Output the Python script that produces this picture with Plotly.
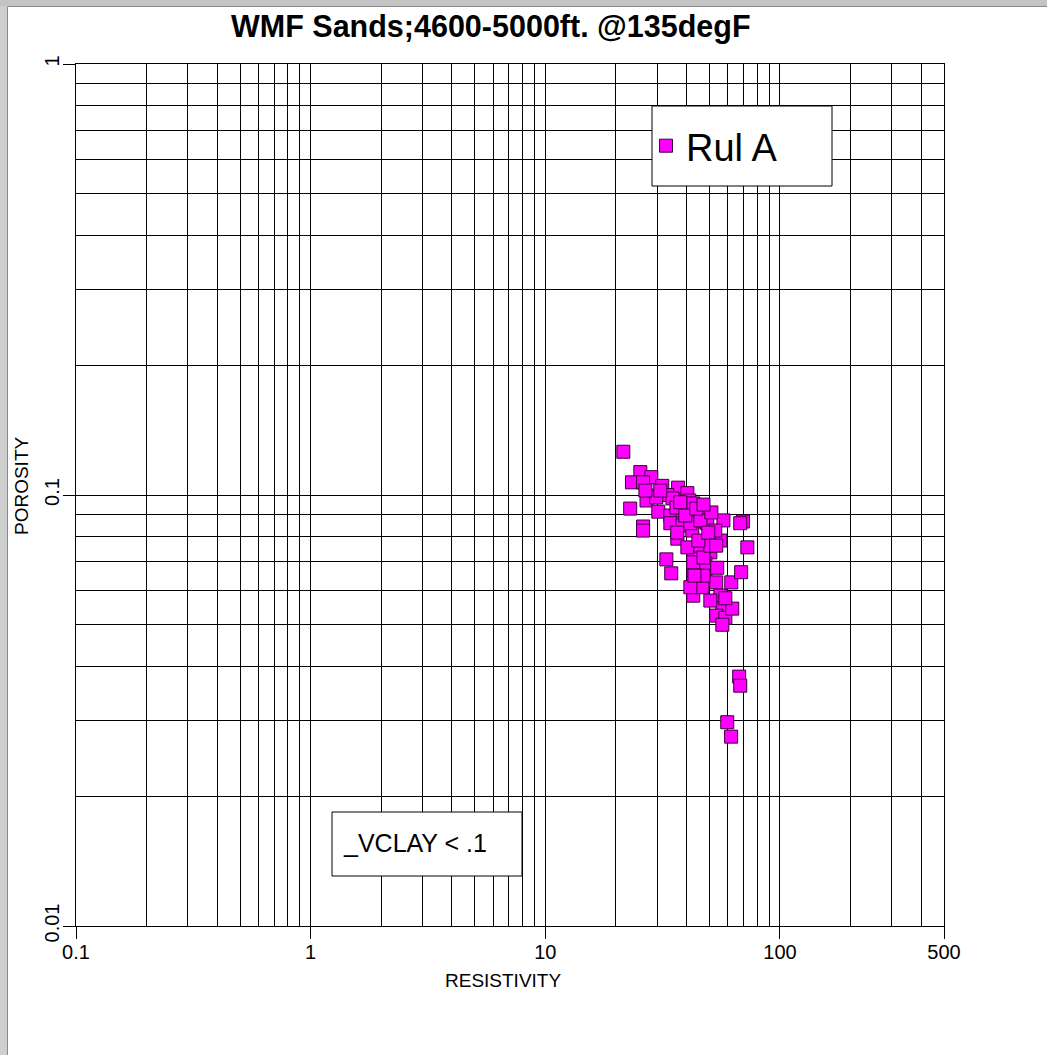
import plotly.graph_objects as go

# ---- data ----
resistivity = [21.5, 25.4, 28.3, 23.4, 26.1, 31.5, 36.8, 40.3, 33.1, 28.6,
               27.0, 29.7, 34.8, 41.1, 23.0, 30.3, 34.1, 38.4, 42.3, 36.2,
               26.1, 34.1, 38.4, 57.4, 69.6, 72.6, 48.6, 51.5, 45.8, 50.5,
               55.7, 42.7, 26.1, 32.8, 34.4, 36.5, 36.5, 42.3, 42.7, 42.7,
               43.2, 42.7, 48.1, 48.1, 54.0, 53.5, 55.7, 56.8, 53.5, 58.5,
               56.8, 62.0, 62.6, 68.3, 67.0, 67.7, 59.6, 61.9, 40.3, 45.8,
               42.7, 47.2, 46.7, 41.5, 58.5, 47.2, 41.5, 49.0, 67.7, 45.8,
               51.0, 53.0, 39.5, 44.0, 30.9, 26.7, 50.5, 44.9, 49.5, 37.6,
               47.2, 53.5, 43.2, 50.5]
porosity = [0.126, 0.113, 0.110, 0.107, 0.107, 0.105, 0.104, 0.101, 0.100, 0.0997,
            0.0971, 0.0987, 0.0982, 0.0971, 0.093, 0.0915, 0.0896, 0.0920, 0.0878, 0.0935,
            0.0845, 0.0860, 0.0850, 0.0873, 0.0868, 0.0756, 0.0863, 0.0792, 0.0906, 0.0736,
            0.0784, 0.0956, 0.0827, 0.0709, 0.0658, 0.0792, 0.0818, 0.0827, 0.0736, 0.0668,
            0.0623, 0.0584, 0.0694, 0.0640, 0.0678, 0.0627, 0.0584, 0.0545, 0.0525, 0.0519,
            0.0500, 0.0627, 0.0545, 0.0662, 0.0379, 0.0361, 0.0297, 0.0275, 0.0756, 0.0763,
            0.0698, 0.0716, 0.0611, 0.0611, 0.0576, 0.0650, 0.0860, 0.0860, 0.0860, 0.0873,
            0.0911, 0.0827, 0.0896, 0.0930, 0.1024, 0.1024, 0.0763, 0.0784, 0.0818, 0.0962,
            0.0950, 0.0763, 0.0650, 0.0569]
series_name = "Rul A"

x_tick_vals = [0.1, 1, 10, 100, 500]
x_tick_text = ["0.1", "1", "10", "100", "500"]
x_minor_vals = [0.2, 0.3, 0.4, 0.5, 0.6, 0.7, 0.8, 0.9,
                2, 3, 4, 5, 6, 7, 8, 9,
                20, 30, 40, 50, 60, 70, 80, 90,
                200, 300, 400]
y_tick_vals = [0.01, 0.1, 1]
y_tick_text = ["0.01", "0.1", "1"]
y_minor_vals = [0.02, 0.03, 0.04, 0.05, 0.06, 0.07, 0.08, 0.09,
                0.2, 0.3, 0.4, 0.5, 0.6, 0.7, 0.8, 0.9]

title_text = "WMF Sands;4600-5000ft. @135degF"
x_title = "RESISTIVITY"
y_title = "POROSITY"
note_text = "_VCLAY < .1"

# ---- layout geometry (pixels) ----
W, H = 1047, 1055
L, R, T, B = 76, 944, 64, 926
PW, PH = R - L, B - T

def px(x):
    return (x - L) / PW

def py(y):
    return 1 - (y - T) / PH

FONT = "Liberation Sans, Arial, sans-serif"

fig = go.Figure()
fig.add_trace(go.Scatter(
    x=resistivity, y=porosity, mode="markers", name=series_name,
    marker=dict(symbol="square", size=13, color="#FF00FF",
                line=dict(color="#3a003a", width=1)),
))

axis_common = dict(
    type="log", showgrid=True, gridcolor="#000000", gridwidth=1,
    showline=True, linecolor="#000000", linewidth=1, mirror=True,
    ticks="outside", ticklen=12, tickcolor="#000000", tickwidth=1,
    zeroline=False, tickfont=dict(family=FONT, size=20, color="#000000"),
    ticklabelstandoff=-4,
)

fig.update_xaxes(
    **axis_common,
    range=[-1, 2.69897],
    tickmode="array", tickvals=x_tick_vals, ticktext=x_tick_text,
    minor=dict(tickmode="array", tickvals=x_minor_vals, showgrid=True,
               gridcolor="#000000", gridwidth=1, ticks=""),
)
fig.update_yaxes(
    **axis_common,
    range=[-2, 0],
    tickmode="array", tickvals=y_tick_vals, ticktext=y_tick_text,
    tickangle=-90,
    minor=dict(tickmode="array", tickvals=y_minor_vals, showgrid=True,
               gridcolor="#000000", gridwidth=1, ticks=""),
)

shapes = [
    # grey window frame strips (left and top)
    dict(type="rect", xref="paper", yref="paper",
         x0=px(-2), x1=px(7), y0=py(W + 10), y1=py(-2),
         fillcolor="#cfcfcf", line=dict(width=0), layer="above"),
    dict(type="rect", xref="paper", yref="paper",
         x0=px(-2), x1=px(W + 10), y0=py(6), y1=py(-2),
         fillcolor="#c4c4c4", line=dict(width=0), layer="above"),
    dict(type="line", xref="paper", yref="paper",
         x0=px(7.5), x1=px(7.5), y0=py(W + 10), y1=py(6.5),
         line=dict(color="#8a8a8a", width=1), layer="above"),
    dict(type="line", xref="paper", yref="paper",
         x0=px(7.5), x1=px(W + 10), y0=py(6.5), y1=py(6.5),
         line=dict(color="#8a8a8a", width=1), layer="above"),
    # legend box
    dict(type="rect", xref="paper", yref="paper",
         x0=px(652), x1=px(832), y0=py(186), y1=py(106),
         fillcolor="#ffffff", line=dict(color="#000000", width=1), layer="above"),
    # note box
    dict(type="rect", xref="paper", yref="paper",
         x0=px(332), x1=px(522), y0=py(876), y1=py(812),
         fillcolor="#ffffff", line=dict(color="#000000", width=1), layer="above"),
]

annotations = [
    dict(text="<b>" + title_text + "</b>", xref="paper", yref="paper",
         x=px(491), y=py(27), xanchor="center", yanchor="middle",
         showarrow=False, font=dict(family=FONT, size=30.5, color="#000000")),
    dict(text=x_title, xref="paper", yref="paper",
         x=px(503), y=py(980), xanchor="center", yanchor="middle",
         showarrow=False, font=dict(family=FONT, size=19, color="#000000")),
    dict(text=y_title, xref="paper", yref="paper",
         x=px(21), y=py(486), xanchor="center", yanchor="middle",
         textangle=-90, showarrow=False,
         font=dict(family=FONT, size=19, color="#000000")),
    dict(text=note_text, xref="paper", yref="paper",
         x=px(341), y=py(843), xanchor="left", yanchor="middle",
         showarrow=False, font=dict(family=FONT, size=25, color="#000000")),
]

fig.update_layout(
    width=W, height=H,
    margin=dict(l=L, r=W - R, t=T, b=H - B, pad=0),
    paper_bgcolor="#ffffff", plot_bgcolor="#ffffff",
    showlegend=True,
    legend=dict(x=px(646), y=py(146), xanchor="left", yanchor="middle",
                bgcolor="rgba(0,0,0,0)", borderwidth=0,
                font=dict(family=FONT, size=38, color="#000000"),
                itemwidth=30),
    shapes=shapes,
    annotations=annotations,
    font=dict(family=FONT, color="#000000"),
)

fig.write_html("out.html")
